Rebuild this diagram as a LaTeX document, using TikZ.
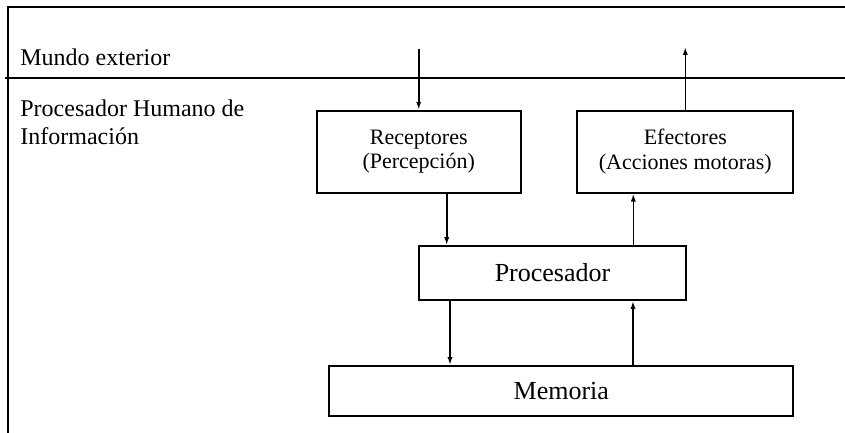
\documentclass[tikz,border=0pt]{standalone}
\usepackage{fontspec}
\setmainfont{Liberation Serif}
\usetikzlibrary{arrows.meta, calc}

\begin{document}
\begin{tikzpicture}[x=0.5pt, y=-0.5pt,
  >={Latex[length=4pt, width=2.6pt]},
  caja/.style={draw, line width=0.9pt, inner sep=0pt, align=center},
  chica/.style={font=\fontsize{11}{12.2}\selectfont},
  grande/.style={font=\fontsize{13}{15}\selectfont},
  flecha/.style={->, line width=0.8pt},
  etiqueta/.style={font=\fontsize{12}{14}\selectfont, inner sep=0pt}]

% Frame
\useasboundingbox (0,0) rectangle (845,433);
\draw[line width=0.9pt] (845,6.7) -- (8.3,6.7) -- (8.3,433);
\draw[line width=0.9pt] (5,78) -- (845,78);

% Labels
\node[etiqueta, anchor=base west] (mundo) at (20,66) {Mundo exterior};
\node[etiqueta, anchor=north west, align=left] (phi) at (20,99.8)
  {Procesador Humano de\\Información};

% Boxes
\node[caja, chica, minimum width=102pt, minimum height=41pt]
  (rec) at (418.7,151.7) {Receptores\\(Percepción)};
\node[caja, chica, minimum width=108pt, minimum height=41pt]
  (efe) at (685.3,151.7) {Efectores\\(Acciones motoras)};
\node[caja, grande, minimum width=133.5pt, minimum height=27pt]
  (proc) at (552.5,273) {Procesador};
\node[caja, grande, minimum width=232pt, minimum height=25pt]
  (mem) at (561.3,391) {Memoria};

% Free ends in the outside world
\coordinate (entrada) at (418.7,49);
\coordinate (salida) at (685.3,47);

% Connectors
\draw[flecha] (entrada) -- (rec.north);
\draw[flecha] (efe.north) -- (salida);
\draw[flecha] (rec.south -| 446.7,0) -- (proc.north -| 446.7,0);
\draw[flecha] (proc.north -| 633.3,0) -- (efe.south -| 633.3,0);
\draw[flecha] (proc.south -| 450,0) -- (mem.north -| 450,0);
\draw[flecha] (mem.north -| 633,0) -- (proc.south -| 633,0);

\end{tikzpicture}
\end{document}
